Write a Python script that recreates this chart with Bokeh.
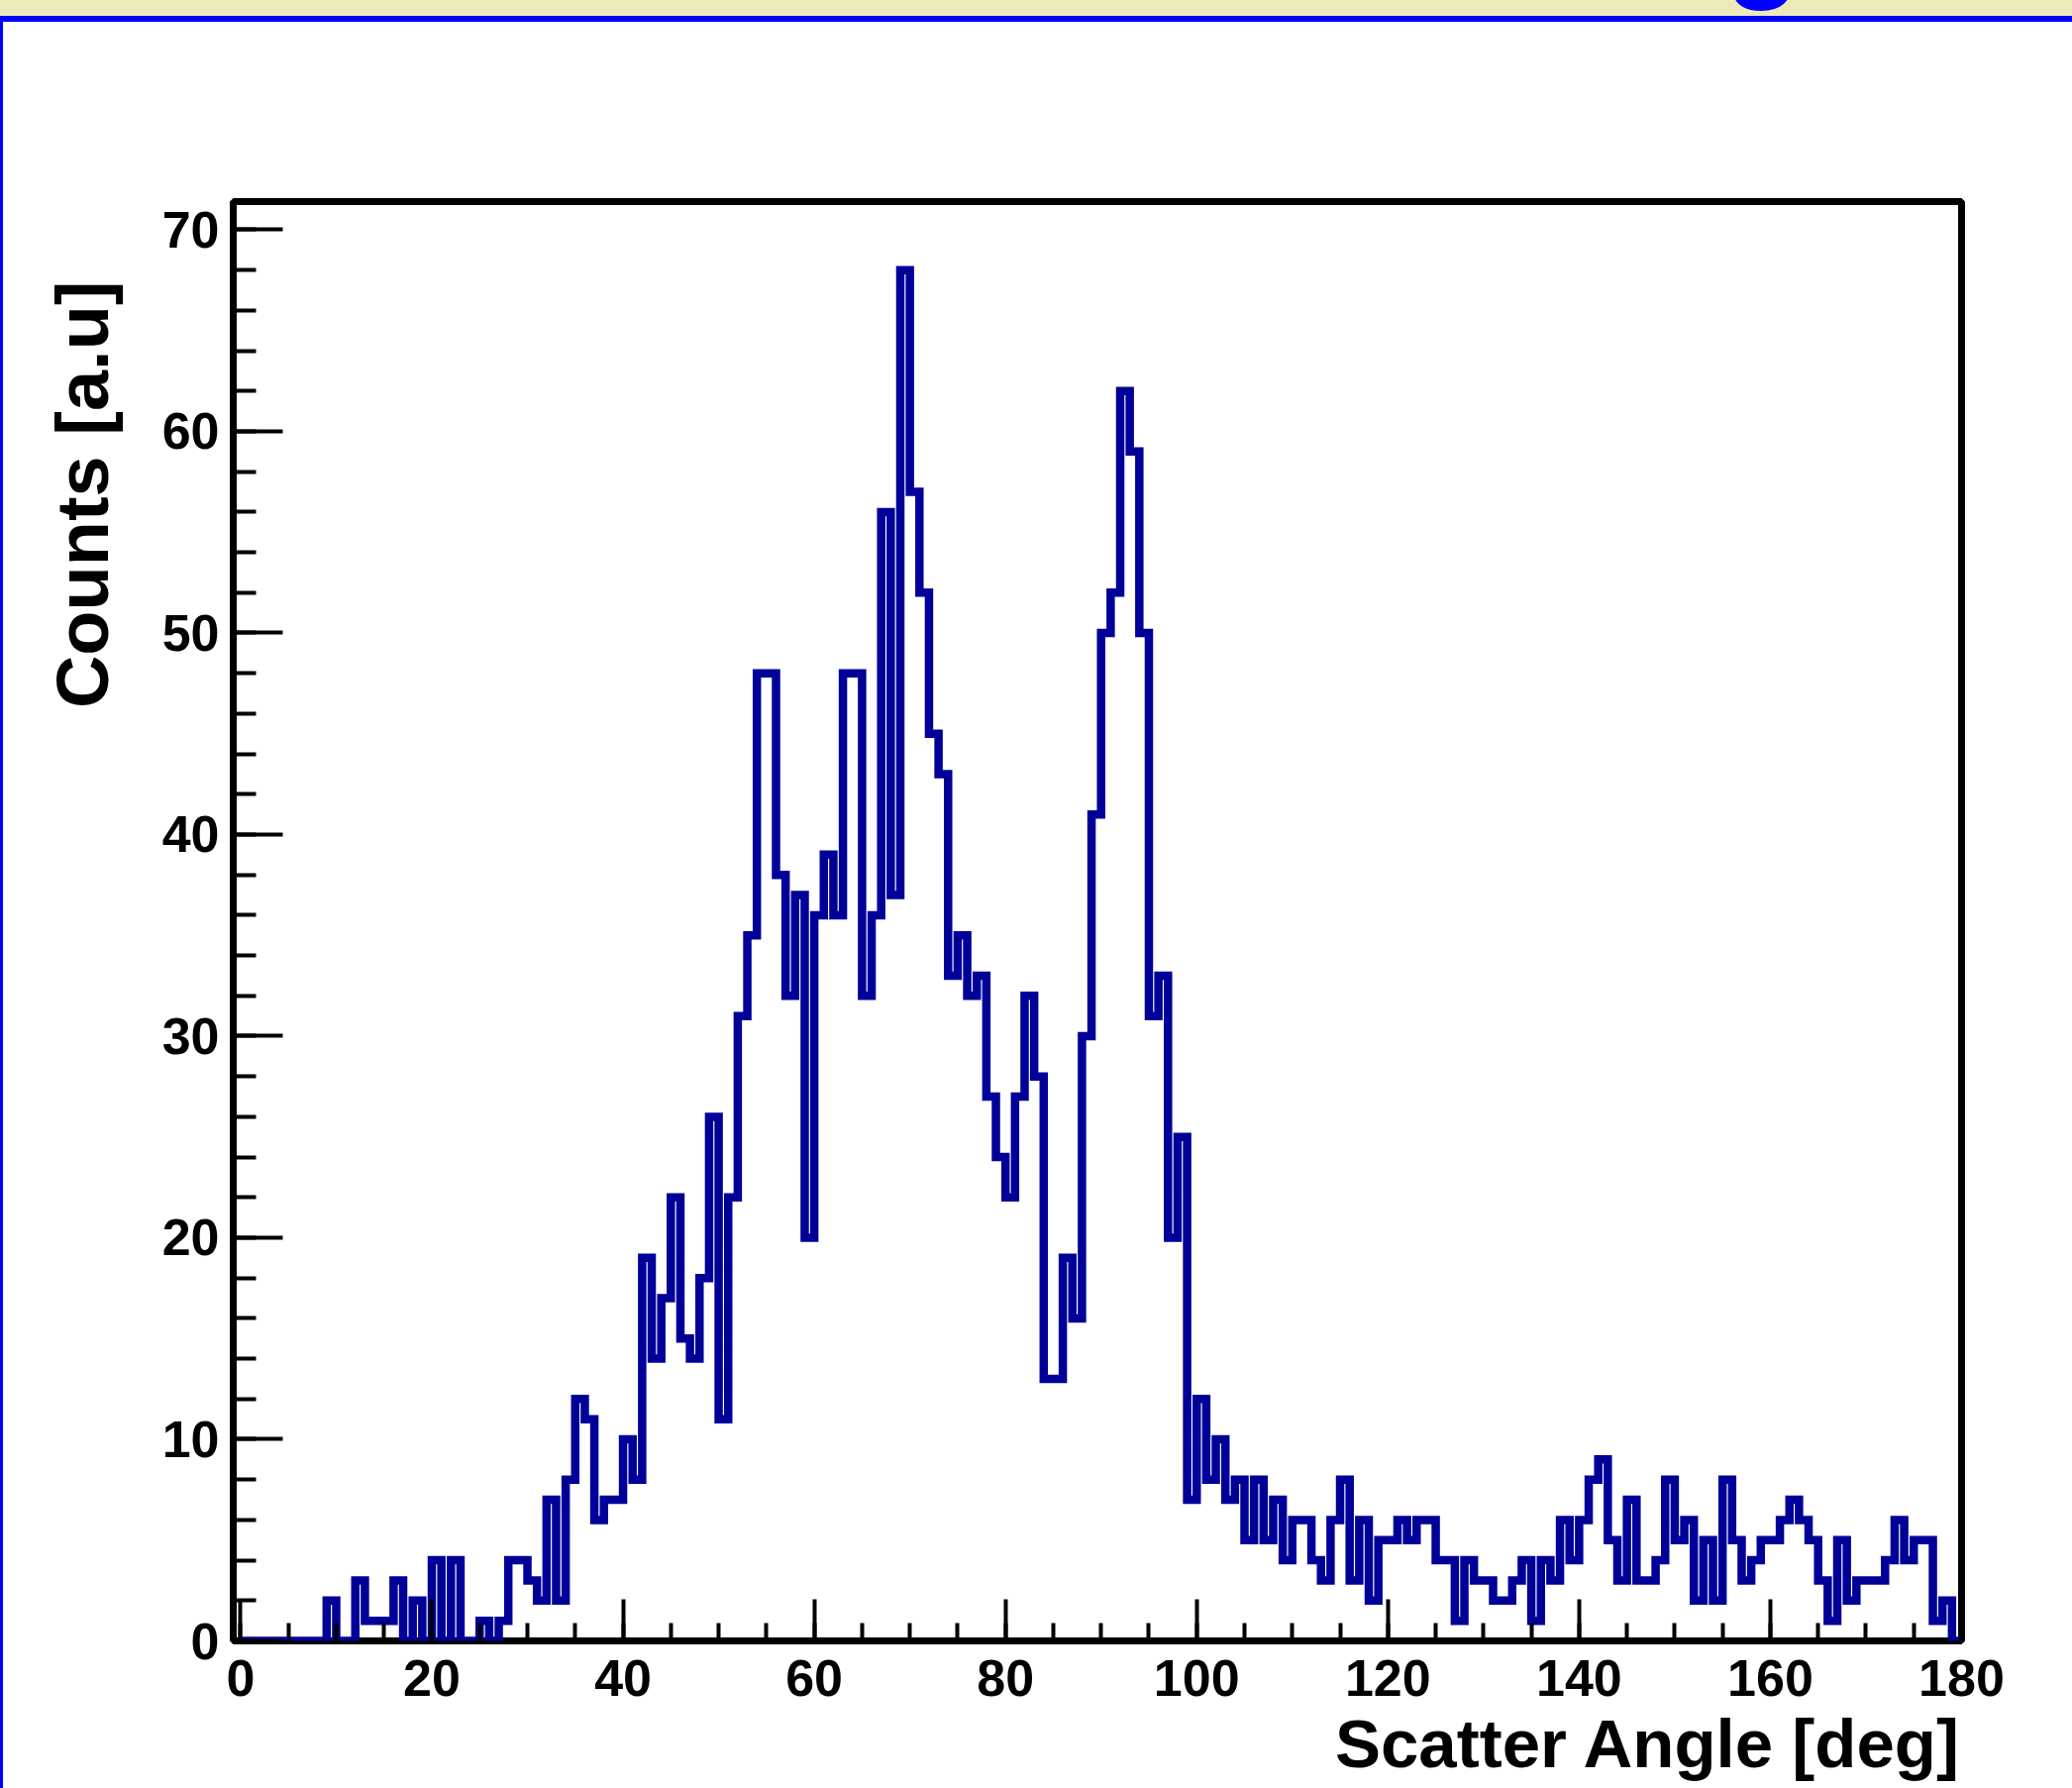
from bokeh.plotting import figure
from bokeh.models import Range1d, FixedTicker, Title, Div
from bokeh.layouts import column, row
from bokeh.embed import file_html
from bokeh.resources import INLINE

# ---- data -------------------------------------------------------------
bin_edges = list(range(0, 181))          # 1-degree bins, 0..180 deg
counts = [
    0, 0, 0, 0, 0, 0, 0, 0, 0, 2,
    0, 0, 3, 1, 1, 1, 3, 0, 2, 0,
    4, 0, 4, 0, 0, 1, 0, 1, 4, 4,
    3, 2, 7, 2, 8, 12, 11, 6, 7, 7,
    10, 8, 19, 14, 17, 22, 15, 14, 18, 26,
    11, 22, 31, 35, 48, 48, 38, 32, 37, 20,
    36, 39, 36, 48, 48, 32, 36, 56, 37, 68,
    57, 52, 45, 43, 33, 35, 32, 33, 27, 24,
    22, 27, 32, 28, 13, 13, 19, 16, 30, 41,
    50, 52, 62, 59, 50, 31, 33, 20, 25, 7,
    12, 8, 10, 7, 8, 5, 8, 5, 7, 4,
    6, 6, 4, 3, 6, 8, 3, 6, 2, 5,
    5, 6, 5, 6, 6, 4, 4, 1, 4, 3,
    3, 2, 2, 3, 4, 1, 4, 3, 6, 4,
    6, 8, 9, 5, 3, 7, 3, 3, 4, 8,
    5, 6, 2, 5, 2, 8, 5, 3, 4, 5,
    5, 6, 7, 6, 5, 3, 1, 5, 2, 3,
    3, 3, 4, 6, 4, 5, 5, 1, 2, 0,
]
x_ticks = [0, 20, 40, 60, 80, 100, 120, 140, 160, 180]
x_minor_ticks = [5 * i for i in range(37)]
y_ticks = [0, 10, 20, 30, 40, 50, 60, 70]
y_minor_ticks = [2 * i for i in range(36)]
x_title = "Scatter Angle [deg]"
y_title = "Counts [a.u]"
x_lo, x_hi = -0.77, 180
y_lo, y_hi = 0, 71.4

FONT = "Liberation Sans"
HIST_COLOR = "#000099"

# ---- figure -----------------------------------------------------------
p = figure(width=2089, height=1783, output_backend="svg", toolbar_location=None,
           title=None, x_range=Range1d(x_lo, x_hi), y_range=Range1d(y_lo, y_hi))
p.min_border_left = 231
p.min_border_right = 112
p.min_border_top = 181
p.min_border_bottom = 149
p.background_fill_color = "white"
p.border_fill_color = "white"
p.outline_line_color = "black"
p.outline_line_width = 7
p.xgrid.visible = False
p.ygrid.visible = False

p.step(x=bin_edges, y=counts + [counts[-1]], mode="after",
       line_color=HIST_COLOR, line_width=8.5, line_join="miter")

for ax, ticks, minor in ((p.xaxis[0], x_ticks, x_minor_ticks),
                         (p.yaxis[0], y_ticks, y_minor_ticks)):
    ax.ticker = FixedTicker(ticks=ticks, minor_ticks=minor)
    ax.axis_line_color = None
    ax.major_tick_out = 0
    ax.minor_tick_out = 0
    ax.major_tick_line_width = 4
    ax.minor_tick_line_width = 4
    ax.major_tick_line_color = "black"
    ax.minor_tick_line_color = "black"
    ax.major_label_text_font = FONT
    ax.major_label_text_font_style = "bold"
    ax.major_label_text_font_size = "52px"
    ax.major_label_text_color = "black"

p.xaxis[0].major_tick_in = 42
p.xaxis[0].minor_tick_in = 18
p.xaxis[0].major_label_standoff = 19
p.yaxis[0].major_tick_in = 50
p.yaxis[0].minor_tick_in = 23
p.yaxis[0].major_label_standoff = 14

p.add_layout(Title(text=x_title, align="right", standoff=10,
                   text_font=FONT, text_font_style="bold",
                   text_font_size="69px", text_color="black"), "below")
p.add_layout(Title(text=y_title, align="right", offset=80, standoff=72,
                   text_font=FONT, text_font_style="bold",
                   text_font_size="74px", text_color="black"), "left")

# ---- page decoration (slide band + border) ----------------------------
band_html = (
    '<div style="position:relative;width:2092px;height:16px;background:#EDEAB9;overflow:hidden;">'
    '<span style="position:absolute;left:1742px;top:-128px;font-family:\'Liberation Sans\';'
    'font-weight:bold;font-size:124px;line-height:140px;color:#0000FF;">g</span></div>'
    '<div style="width:2092px;height:6px;background:#0000FF;"></div>'
)
band = Div(text=band_html, width=2092, height=22, margin=(0, 0, 0, 0),
           styles={"overflow": "hidden"})
left_line = Div(text="", width=3, height=1783, margin=(0, 0, 0, 0),
                styles={"background-color": "#0000FF"})

layout = column(band, row(left_line, p, spacing=0), spacing=0)

open("out.html", "w").write(file_html(layout, INLINE))
